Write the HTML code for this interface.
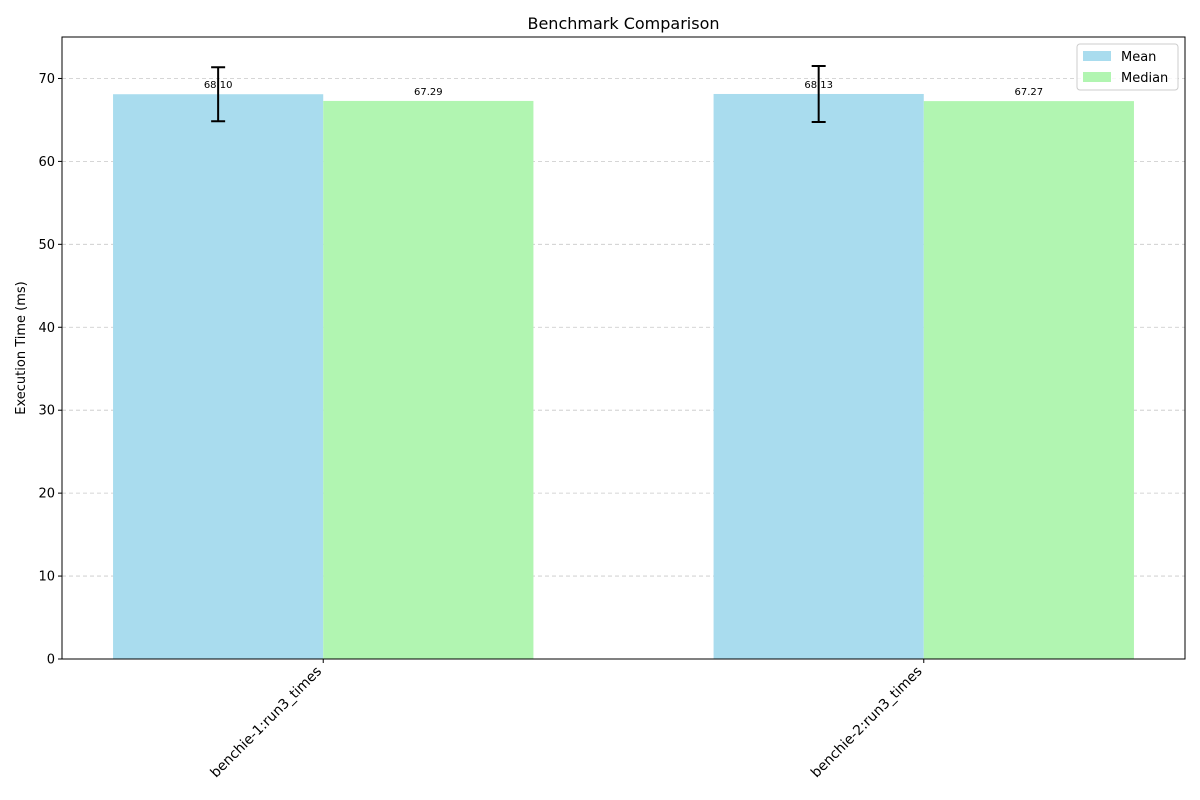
<!DOCTYPE html>
<html><head><meta charset="utf-8"><style>
body{margin:0;background:#fff}
svg{display:block;font-family:"DejaVu Sans","Liberation Sans",sans-serif}
</style></head><body>
<svg id="chart" width="1200" height="800" xmlns="http://www.w3.org/2000/svg">
<rect width="1200" height="800" fill="#fff"/>
<text x="623.5" y="29" font-size="16" text-anchor="middle">Benchmark Comparison</text>
<g id="grid"></g><g id="bars"></g><g id="axes"></g>
<text transform="translate(25,348) rotate(-90)" font-size="13" text-anchor="middle">Execution Time (ms)</text>
<g>
<rect x="1077" y="44" width="101" height="46" rx="3" fill="#fff" fill-opacity="0.8" stroke="#ccc"/>
<rect x="1083" y="51" width="28" height="10" fill="#a9dcee"/>
<text x="1121" y="61" font-size="13">Mean</text>
<rect x="1083" y="72" width="28" height="10" fill="#b1f5b1"/>
<text x="1121" y="82" font-size="13">Median</text>
</g>
</svg>
<script>
const categories=["benchie-1:run3_times","benchie-2:run3_times"];
const meanValues=[68.10,68.13];
const medianValues=[67.29,67.27];
const stdValues=[3.26,3.38];
const yTicks=[0,10,20,30,40,50,60,70];
const NS="http://www.w3.org/2000/svg";
const L=62,R=1185,T=37,B=659,yMax=75,xMin=-0.435,xMax=1.435,bw=0.35;
const y=v=>B-(v/yMax)*(B-T);
const x=v=>L+(v-xMin)/(xMax-xMin)*(R-L);
function mk(tag,attrs,parent,text){const e=document.createElementNS(NS,tag);for(const k in attrs)e.setAttribute(k,attrs[k]);if(text!==undefined)e.textContent=text;document.getElementById(parent).appendChild(e);return e;}
yTicks.forEach(t=>{
 if(t>0){const g=mk('line',{x1:L,x2:R,y1:y(t),y2:y(t),stroke:'#b0b0b0','stroke-width':0.8,'stroke-dasharray':'4,3','stroke-opacity':0.7},'grid');
 
 }
 const tk=mk('line',{x1:L-4,x2:L,y1:y(t),y2:y(t),stroke:'#000'},'axes');
 
 
 const lb=mk('text',{x:L-7,y:y(t)+4.5,'font-size':13,'text-anchor':'end'},'axes',String(t));
 
 
});
categories.forEach((c,i)=>{
 const m=mk('rect',{x:x(i-bw),y:y(meanValues[i]),width:x(i)-x(i-bw),height:B-y(meanValues[i]),fill:'#a9dcee'},'bars');
 
 
 const d=mk('rect',{x:x(i),y:y(medianValues[i]),width:x(i+bw)-x(i),height:B-y(medianValues[i]),fill:'#b1f5b1'},'bars');
 
 
 const ex=x(i-bw/2),hi=y(meanValues[i]+stdValues[i]),lo=y(meanValues[i]-stdValues[i]);
 const eb=mk('path',{d:`M${ex},${hi}V${lo}M${ex-7},${hi}H${ex+7}M${ex-7},${lo}H${ex+7}`,stroke:'#000','stroke-width':2,fill:'none'},'bars');
 
 
 const t1=mk('text',{x:ex,y:y(meanValues[i])-6,'font-size':10,'text-anchor':'middle'},'bars',meanValues[i].toFixed(2));
 
 
 const t2=mk('text',{x:x(i+bw/2),y:y(medianValues[i])-6,'font-size':10,'text-anchor':'middle'},'bars',medianValues[i].toFixed(2));
 
 
 const xt=mk('line',{x1:x(i),x2:x(i),y1:B,y2:B+4,stroke:'#000'},'axes');
 
 
 const xl=mk('text',{transform:`translate(${x(i)-1},${B+13}) rotate(-45)`,'font-size':13.8,'text-anchor':'end'},'axes',c);
 
 
});
const fr=mk('rect',{x:L,y:T,width:R-L,height:B-T,fill:'none',stroke:'#000','stroke-width':1},'axes');


</script>
</body></html>
